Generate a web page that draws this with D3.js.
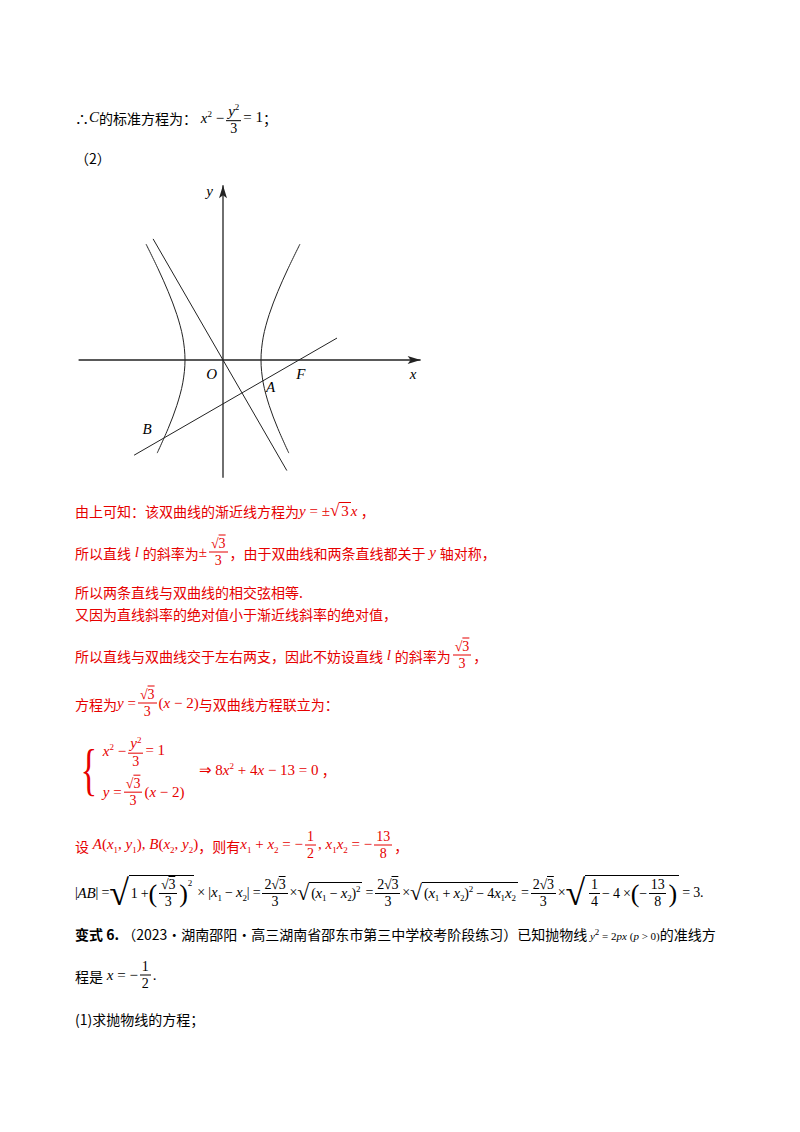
<!DOCTYPE html>
<html><head><meta charset="utf-8">
<script src="https://cdn.jsdelivr.net/npm/d3@7"></script>
<style>
body{margin:0;width:800px;height:1132px;background:#fff;position:relative;font-family:"Noto Sans CJK SC",sans-serif;font-size:14px;color:#000;overflow:hidden}
.ln{position:absolute;left:75px;transform:translateY(-50%);display:flex;align-items:center;white-space:nowrap}
.red{color:#e60000}
.m{font-family:"Liberation Serif",serif;font-size:15px}
i{font-family:"Liberation Serif",serif;font-style:italic;font-size:15px}
.fr{display:inline-flex;flex-direction:column;align-items:center;margin:0 2px;font-family:"Liberation Serif",serif;font-size:14px;line-height:16px}
.fr>span:first-child{border-bottom:1px solid currentColor;padding:0 2px}
.sq{display:inline-flex;align-items:stretch;font-family:"Liberation Serif",serif}
.sq>.r{font-size:1.15em;line-height:1}
.sq>.b{border-top:1px solid currentColor;padding:0 2px;display:inline-flex;align-items:center;white-space:nowrap}
sub,sup{font-size:9px}
svg{position:absolute;left:0;top:0}
</style></head><body>
<svg id="g" width="800" height="1132"></svg>
<div class="ln" style="top:118px">∴<i>C</i>的标准方程为：<span class="m">&nbsp;<i>x</i><sup>2</sup> − </span><span class="fr"><span><i>y</i><sup>2</sup></span><span>3</span></span><span class="m">= 1</span>；</div>
<div class="ln" style="top:158px">（2）</div>
<div class="ln red" style="top:511px">由上可知：该双曲线的渐近线方程为<span class="m"><i>y</i> = ±<span class="sq"><span class="r">√</span><span class="b">3</span></span><i>x</i></span>&nbsp;，</div>
<div class="ln red" style="top:552px">所以直线 <i>&nbsp;l&nbsp;</i> 的斜率为<span class="m">±</span><span class="fr"><span>√<span style="text-decoration:overline">3</span></span><span>3</span></span>，由于双曲线和两条直线都关于 <i>&nbsp;y&nbsp;</i> 轴对称，</div>
<div class="ln red" style="top:592px">所以两条直线与双曲线的相交弦相等.</div>
<div class="ln red" style="top:614px">又因为直线斜率的绝对值小于渐近线斜率的绝对值，</div>
<div class="ln red" style="top:655px">所以直线与双曲线交于左右两支，因此不妨设直线 <i>&nbsp;l&nbsp;</i> 的斜率为<span class="fr"><span>√<span style="text-decoration:overline">3</span></span><span>3</span></span>，</div>
<div class="ln red" style="top:703px">方程为<span class="m"><i>y</i> =</span><span class="fr"><span>√<span style="text-decoration:overline">3</span></span><span>3</span></span><span class="m">(<i>x</i> − 2)</span>与双曲线方程联立为：</div>
<div class="ln red" style="top:770px"><span style="font-size:58px;font-weight:100;line-height:1;font-family:'Liberation Serif';transform:scaleX(0.6);display:inline-block">{</span>
<div style="display:flex;flex-direction:column;gap:6px"><div style="display:flex;align-items:center"><span class="m"><i>x</i><sup>2</sup> − </span><span class="fr"><span><i>y</i><sup>2</sup></span><span>3</span></span><span class="m">= 1</span></div>
<div style="display:flex;align-items:center"><span class="m"><i>y</i> =</span><span class="fr"><span>√<span style="text-decoration:overline">3</span></span><span>3</span></span><span class="m">(<i>x</i> − 2)</span></div></div>
<span class="m" style="margin-left:14px">⇒ 8<i>x</i><sup>2</sup> + 4<i>x</i> − 13 = 0</span>&nbsp;，</div>
<div class="ln red" style="top:845px">设<span class="m">&nbsp;<i>A</i>(<i>x</i><sub>1</sub>, <i>y</i><sub>1</sub>), <i>B</i>(<i>x</i><sub>2</sub>, <i>y</i><sub>2</sub>)</span>，则有<span class="m"><i>x</i><sub>1</sub> + <i>x</i><sub>2</sub> = −</span><span class="fr"><span>1</span><span>2</span></span><span class="m">, <i>x</i><sub>1</sub><i>x</i><sub>2</sub> = −</span><span class="fr"><span>13</span><span>8</span></span>，</div>
<div class="ln m" style="top:893px;font-size:14px;letter-spacing:-0.2px">|<i>AB</i>| =<span class="sq"><span class="r" style="font-size:36px">√</span><span class="b">1 + <span style="font-size:26px">(</span><span class="fr"><span>√<span style="text-decoration:overline">3</span></span><span>3</span></span><span style="font-size:26px">)</span><span style="align-self:flex-start;font-size:9px;margin-top:2px">2</span></span></span>&nbsp;×&nbsp;<span>|<i>x</i><sub>1</sub> − <i>x</i><sub>2</sub>|</span>&nbsp;=<span class="fr"><span>2√<span style="text-decoration:overline">3</span></span><span>3</span></span>×<span class="sq"><span class="r" style="font-size:22px">√</span><span class="b"><span>(<i>x</i><sub>1</sub> − <i>x</i><sub>2</sub>)<sup>2</sup></span></span></span>&nbsp;=<span class="fr"><span>2√<span style="text-decoration:overline">3</span></span><span>3</span></span>×<span class="sq"><span class="r" style="font-size:22px">√</span><span class="b"><span>(<i>x</i><sub>1</sub> + <i>x</i><sub>2</sub>)<sup>2</sup> − 4<i>x</i><sub>1</sub><i>x</i><sub>2</sub></span></span></span>&nbsp;=<span class="fr"><span>2√<span style="text-decoration:overline">3</span></span><span>3</span></span>×<span class="sq"><span class="r" style="font-size:36px">√</span><span class="b"><span class="fr"><span>1</span><span>4</span></span> − 4 × <span style="font-size:26px">(</span>−<span class="fr"><span>13</span><span>8</span></span><span style="font-size:26px">)</span></span></span>&nbsp;= 3.</div>
<div class="ln" style="top:934px"><b>变式 6.</b>&nbsp;（2023·湖南邵阳·高三湖南省邵东市第三中学校考阶段练习）已知抛物线<span class="m" style="font-size:11px">&nbsp;<i style="font-size:11px">y</i><sup>2</sup> = 2<i style="font-size:11px">px</i> (<i style="font-size:11px">p</i> &gt; 0)</span>的准线方</div>
<div class="ln" style="top:975px">程是<span class="m">&nbsp;<i>x</i> = −</span><span class="fr"><span>1</span><span>2</span></span><span class="m">.</span></div>
<div class="ln" style="top:1019px">(1)求抛物线的方程；</div>
<script>
const xDomain=[-3.8,5.2], yDomain=[-3.1,4.6];
const branchY=[-2.45,-1.8,-1.2,-0.6,0,0.6,1.2,1.8,2.4,3.05];
const asymEnds=[-1.84,1.68];
const lineEnds=[-2.34,3.0];
const labels=[{t:"O",x:-0.3,y:-0.4},{t:"A",x:1.25,y:-0.75},{t:"F",x:2.05,y:-0.4},{t:"x",x:5.0,y:-0.4},{t:"y",x:-0.35,y:4.4},{t:"B",x:-2.0,y:-1.85}];
const sx=d3.scaleLinear().domain([0,1]).range([223,261]);
const sy=d3.scaleLinear().domain([0,1]).range([360,322]);
const g=d3.select("#g").append("g").attr("stroke","#222").attr("fill","none").attr("stroke-width",1);
g.append("line").attr("x1",sx(xDomain[0])).attr("x2",sx(xDomain[1])).attr("y1",sy(0)).attr("y2",sy(0)).attr("stroke-width",1.3);
g.append("line").attr("x1",sx(0)).attr("x2",sx(0)).attr("y1",sy(yDomain[0])).attr("y2",sy(yDomain[1])).attr("stroke-width",1.3);
const d=d3.select("#g");
d.append("path").attr("d",`M${sx(xDomain[1])},${sy(0)}l-13,-4l3,4l-3,4z`).attr("fill","#222");
d.append("path").attr("d",`M${sx(0)},${sy(yDomain[1])}l-4,13l4,-3l4,3z`).attr("fill","#222");
const ln=d3.line().x(p=>sx(p[0])).y(p=>sy(p[1])).curve(d3.curveCatmullRom);
[1,-1].forEach(s=>g.append("path").attr("d",ln(branchY.map(y=>[s*Math.sqrt(1+y*y/3),y]))));
g.append("path").attr("d",d3.line().x(p=>sx(p[0])).y(p=>sy(p[1]))(asymEnds.map(x=>[x,-Math.sqrt(3)*x])));
g.append("path").attr("d",d3.line().x(p=>sx(p[0])).y(p=>sy(p[1]))(lineEnds.map(x=>[x,Math.sqrt(3)/3*(x-2)])));
d.selectAll("text.l").data(labels).join("text").attr("x",p=>sx(p.x)).attr("y",p=>sy(p.y)).text(p=>p.t)
 .attr("font-family","Liberation Serif").attr("font-style","italic").attr("font-size",15).attr("text-anchor","middle").attr("dominant-baseline","middle");
</script>
</body></html>
